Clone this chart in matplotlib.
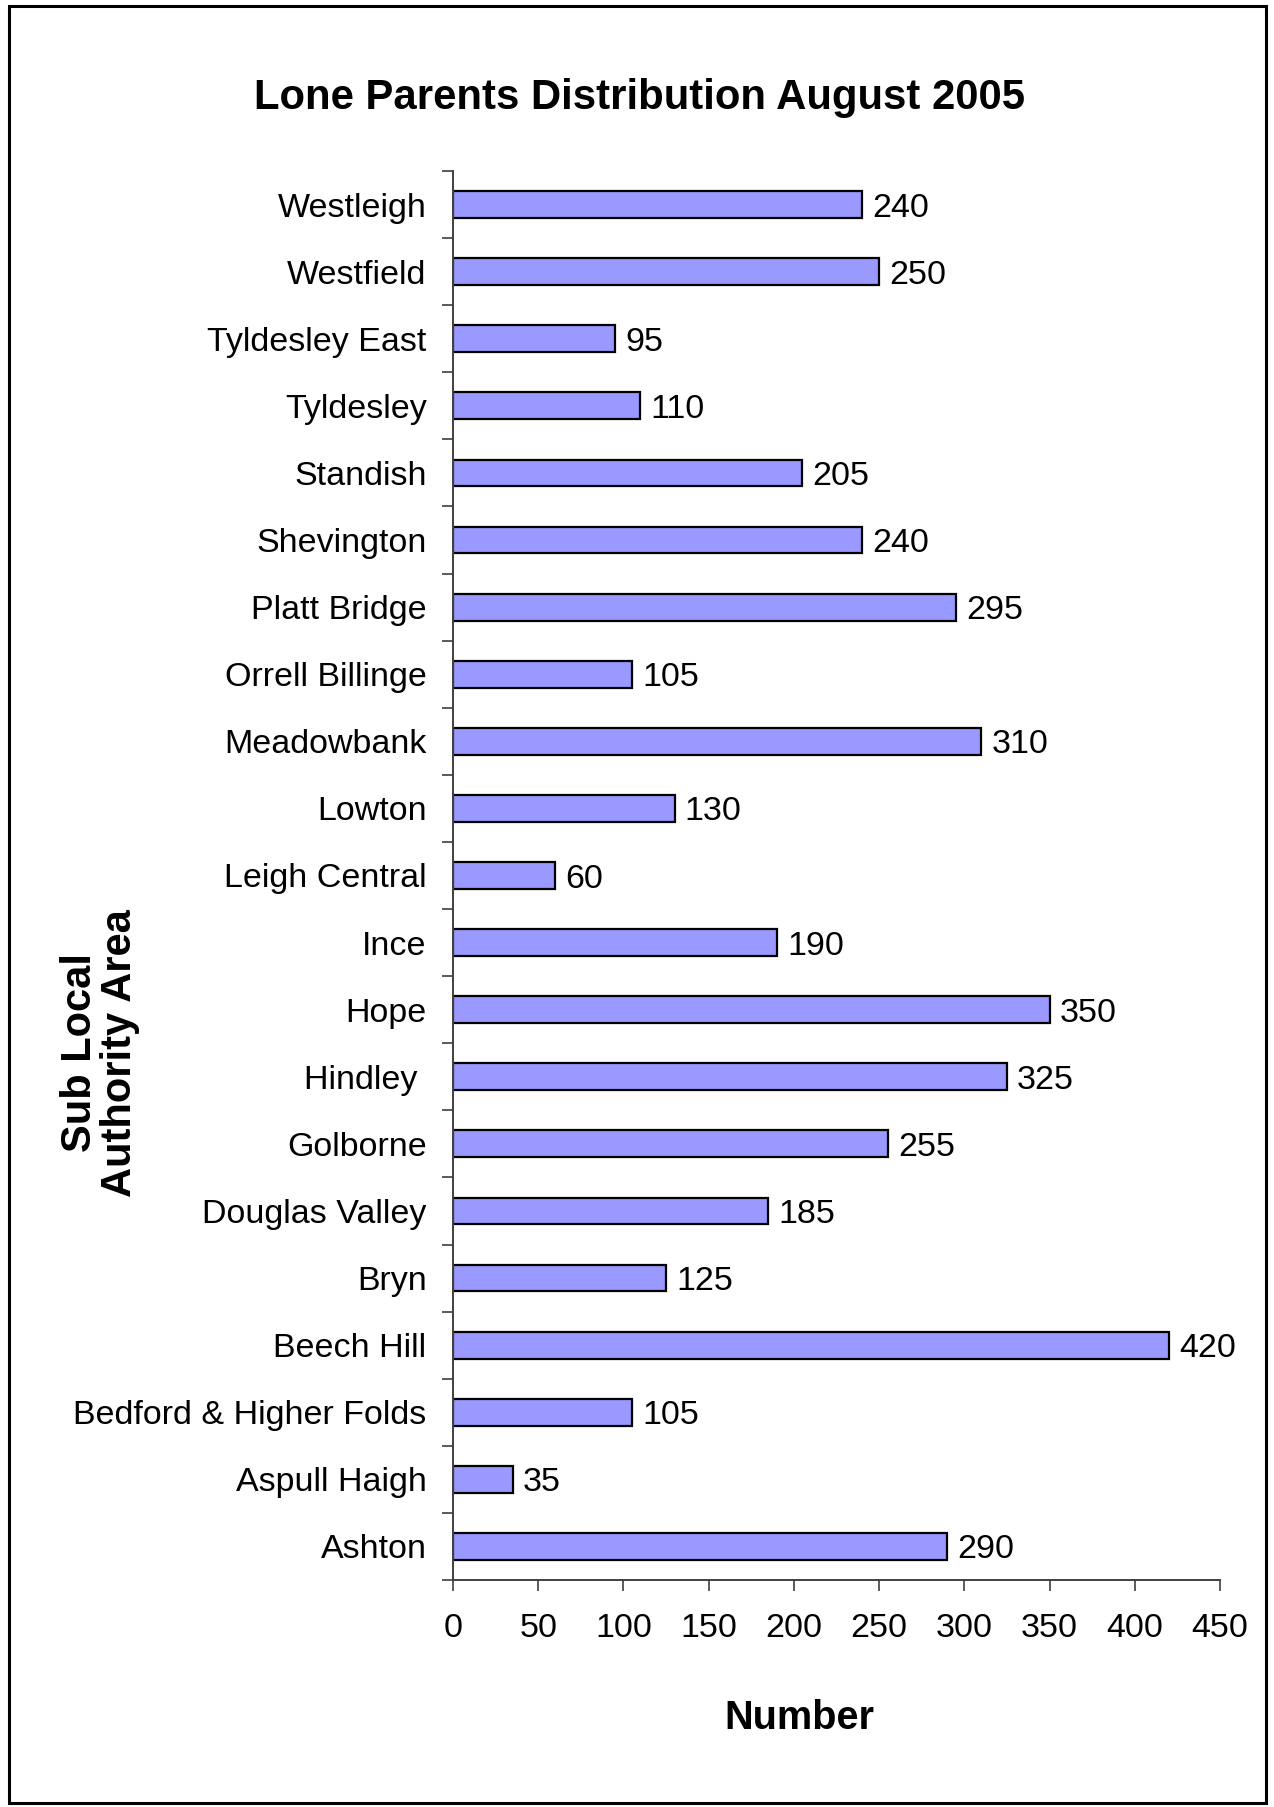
import matplotlib
matplotlib.use("Agg")
import matplotlib.pyplot as plt
from matplotlib.patches import Rectangle
import numpy as np

# Sub local authority areas, listed bottom to top as drawn
areas = [
    "Ashton", "Aspull Haigh", "Bedford & Higher Folds", "Beech Hill", "Bryn",
    "Douglas Valley", "Golborne", "Hindley ", "Hope", "Ince", "Leigh Central",
    "Lowton", "Meadowbank", "Orrell Billinge", "Platt Bridge", "Shevington",
    "Standish", "Tyldesley", "Tyldesley East", "Westfield", "Westleigh",
]
lone_parents = [
    290, 35, 105, 420, 125, 185, 255, 325, 350, 190, 60,
    130, 310, 105, 295, 240, 205, 110, 95, 250, 240,
]
x_ticks = [0, 50, 100, 150, 200, 250, 300, 350, 400, 450]

title = "Lone Parents Distribution August 2005"
x_label = "Number"
y_label = "Sub Local\nAuthority Area"

plt.rcParams["font.family"] = ["Liberation Sans", "DejaVu Sans"]

W, H, DPI = 1274, 1807, 100
fig = plt.figure(figsize=(W / DPI, H / DPI), dpi=DPI)
fig.patch.set_facecolor("white")

ax = fig.add_axes([453 / W, 1 - 1580 / H, (1220 - 453) / W, (1580 - 171) / H])

label_size = 24.5

y = np.arange(len(areas))
ax.barh(y, lone_parents, height=0.4, color="#9999FF",
        edgecolor="black", linewidth=1.6)

for yi, v in zip(y, lone_parents):
    ax.text(v + 6, yi, str(v), va="center_baseline", ha="left",
            fontsize=label_size)

ax.set_xlim(0, 450)
ax.set_ylim(-0.5, len(areas) - 0.5)
ax.set_xticks(x_ticks)
ax.set_xticklabels([str(t) for t in x_ticks], fontsize=label_size)

# category labels sit at bar centres; tick marks sit between categories
ax.set_yticks(y)
ax.set_yticklabels(areas, fontsize=label_size)
ax.tick_params(axis="y", which="major", length=0, pad=19)
ax.set_yticks(np.arange(-0.5, len(areas)), minor=True)
ax.tick_params(axis="y", which="minor", length=8, width=1.2, color="#404040")
ax.tick_params(axis="x", which="major", length=8, width=1.2, color="#404040",
               pad=16, direction="out")

for s in ("top", "right"):
    ax.spines[s].set_visible(False)
for s in ("left", "bottom"):
    ax.spines[s].set_color("#404040")
    ax.spines[s].set_linewidth(1.4)

fig.text(640 / W, 1 - 98 / H, title, ha="center", va="center",
         fontsize=30.2, fontweight="bold")
fig.text(799 / W, 1 - 1718 / H, x_label, ha="center", va="center",
         fontsize=28.5, fontweight="bold")
fig.text(100 / W, 1 - 1053 / H, y_label, ha="center", va="center",
         rotation=90, fontsize=30, fontweight="bold", linespacing=1.0,
         multialignment="center")

# outer frame around the whole chart
fig.patches.append(Rectangle((9 / W, 4 / H), (1266 - 9) / W, (1801 - 4) / H,
                             transform=fig.transFigure, fill=False,
                             edgecolor="black", linewidth=2.2))

fig.savefig("out.png", dpi=DPI)
